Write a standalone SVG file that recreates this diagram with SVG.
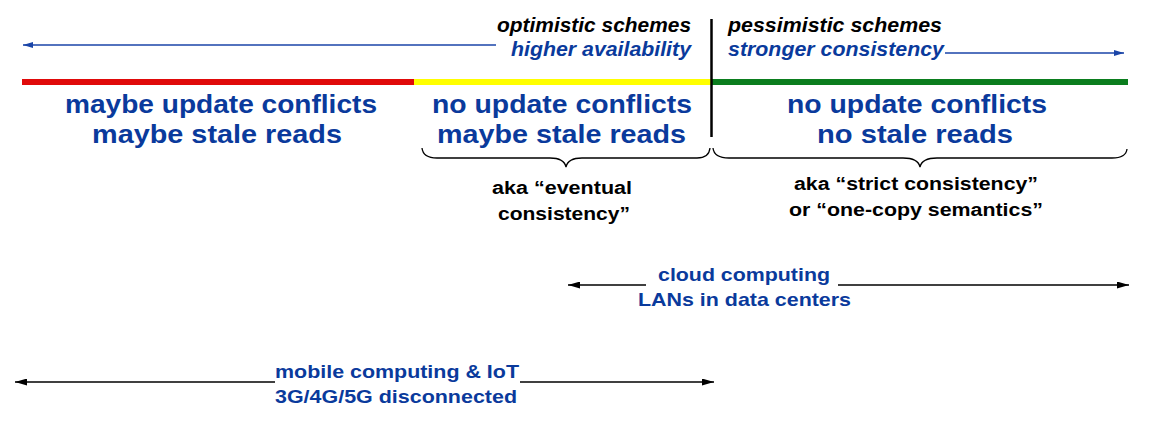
<svg xmlns="http://www.w3.org/2000/svg" width="1161" height="429" viewBox="0 0 1161 429">
<defs>
<style>
text{font-family:"Liberation Sans",Arial,sans-serif;font-weight:bold}
.big{font-size:26px;fill:#0a3a9c}
.it{font-size:19.5px;font-style:italic}
.blk{fill:#000}
.blu{fill:#0a3a9c}
.aka{font-size:18px;fill:#000}
.net{font-size:18.5px;fill:#0a3a9c}
.brace{fill:none;stroke:#000;stroke-width:1.3}
.bl{stroke:#1a45a8;stroke-width:1.3;fill:none}
.kl{stroke:#000;stroke-width:1.3;fill:none}
</style>
<marker id="ab" markerWidth="10" markerHeight="6" refX="10" refY="3" orient="auto-start-reverse" markerUnits="userSpaceOnUse"><path d="M0,0 L10,3 L0,6 z" fill="#1a45a8"/></marker>
<marker id="ak" markerWidth="12" markerHeight="7" refX="12" refY="3.5" orient="auto-start-reverse" markerUnits="userSpaceOnUse"><path d="M0,0 L12,3.5 L0,7 z" fill="#000"/></marker>
</defs>
<g id="bar">
<rect x="22" y="79" width="392" height="6" fill="#e00a0a"/>
<rect x="414" y="79" width="297" height="6" fill="#ffff00"/>
<rect x="711" y="79" width="417" height="6" fill="#0b7d1e"/>
<line x1="711.5" y1="19" x2="711.5" y2="137" stroke="#000" stroke-width="2.5"/>
</g>
<g id="connectors">
<line class="bl" x1="496" y1="45" x2="23" y2="45" marker-end="url(#ab)"/>
<line class="bl" x1="945" y1="53" x2="1124" y2="53" marker-end="url(#ab)"/>
<line class="kl" x1="646" y1="285" x2="568" y2="285" marker-end="url(#ak)"/>
<line class="kl" x1="838" y1="285" x2="1129" y2="285" marker-end="url(#ak)"/>
<line class="kl" x1="275" y1="382" x2="15" y2="382" marker-end="url(#ak)"/>
<line class="kl" x1="520" y1="382" x2="714" y2="382" marker-end="url(#ak)"/>
</g>
<g id="optimistic">
<text class="it blk" x="497" y="32" textLength="194" lengthAdjust="spacingAndGlyphs">optimistic schemes</text>
<text class="it blu" x="511" y="56" textLength="180" lengthAdjust="spacingAndGlyphs">higher availability</text>
</g>
<g id="pessimistic">
<text class="it blk" x="728" y="32" textLength="214" lengthAdjust="spacingAndGlyphs">pessimistic schemes</text>
<text class="it blu" x="728" y="56" textLength="216" lengthAdjust="spacingAndGlyphs">stronger consistency</text>
</g>
<g id="region-red">
<text class="big" x="65" y="113" textLength="312" lengthAdjust="spacingAndGlyphs">maybe update conflicts</text>
<text class="big" x="92" y="143" textLength="250" lengthAdjust="spacingAndGlyphs">maybe stale reads</text>
</g>
<g id="region-yellow">
<text class="big" x="432" y="113" textLength="260" lengthAdjust="spacingAndGlyphs">no update conflicts</text>
<text class="big" x="437" y="143" textLength="249" lengthAdjust="spacingAndGlyphs">maybe stale reads</text>
<path class="brace" d="M422,148 Q423,158 437,158 L550,158 Q564,158 566,167 Q568,158 582,158 L697,158 Q709,158 710,148"/>
<text class="aka" x="492" y="194" textLength="140" lengthAdjust="spacingAndGlyphs">aka “eventual</text>
<text class="aka" x="498" y="220" textLength="132" lengthAdjust="spacingAndGlyphs">consistency”</text>
</g>
<g id="region-green">
<text class="big" x="787" y="113" textLength="260" lengthAdjust="spacingAndGlyphs">no update conflicts</text>
<text class="big" x="817" y="143" textLength="196" lengthAdjust="spacingAndGlyphs">no stale reads</text>
<path class="brace" d="M713,148 Q714,158 729,158 L903,158 Q918,158 920,167 Q922,158 937,158 L1112,158 Q1126,158 1127,149"/>
<text class="aka" x="794" y="190" textLength="244" lengthAdjust="spacingAndGlyphs">aka “strict consistency”</text>
<text class="aka" x="789" y="216" textLength="254" lengthAdjust="spacingAndGlyphs">or “one-copy semantics”</text>
</g>
<g id="cloud">
<text class="net" x="658" y="281" textLength="172" lengthAdjust="spacingAndGlyphs">cloud computing</text>
<text class="net" x="638" y="306" textLength="213" lengthAdjust="spacingAndGlyphs">LANs in data centers</text>
</g>
<g id="mobile">
<text class="net" x="275" y="378" textLength="244" lengthAdjust="spacingAndGlyphs">mobile computing &amp; IoT</text>
<text class="net" x="275" y="403" textLength="242" lengthAdjust="spacingAndGlyphs">3G/4G/5G disconnected</text>
</g>
</svg>
